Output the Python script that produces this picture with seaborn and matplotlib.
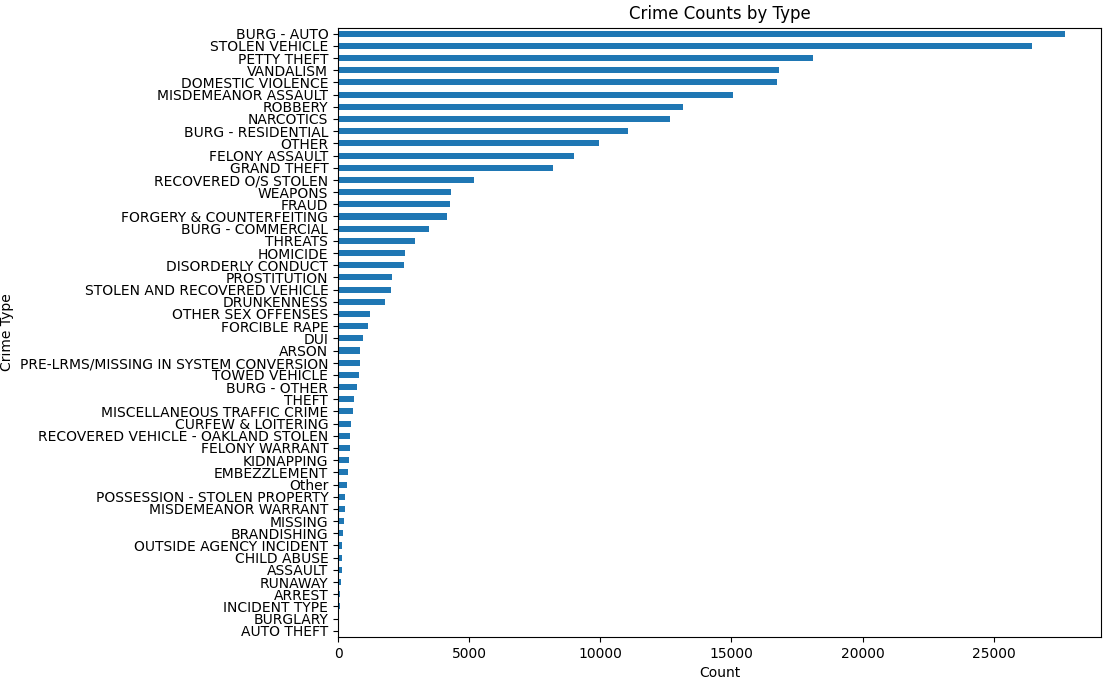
import matplotlib
matplotlib.use("Agg")
import matplotlib.pyplot as plt
import seaborn as sns
import pandas as pd

crime_types = ["BURG - AUTO", "STOLEN VEHICLE", "PETTY THEFT", "VANDALISM", "DOMESTIC VIOLENCE",
    "MISDEMEANOR ASSAULT", "ROBBERY", "NARCOTICS", "BURG - RESIDENTIAL", "OTHER", "FELONY ASSAULT",
    "GRAND THEFT", "RECOVERED O/S STOLEN", "WEAPONS", "FRAUD", "FORGERY & COUNTERFEITING",
    "BURG - COMMERCIAL", "THREATS", "HOMICIDE", "DISORDERLY CONDUCT", "PROSTITUTION",
    "STOLEN AND RECOVERED VEHICLE", "DRUNKENNESS", "OTHER SEX OFFENSES", "FORCIBLE RAPE", "DUI",
    "ARSON", "PRE-LRMS/MISSING IN SYSTEM CONVERSION", "TOWED VEHICLE", "BURG - OTHER", "THEFT",
    "MISCELLANEOUS TRAFFIC CRIME", "CURFEW & LOITERING", "RECOVERED VEHICLE - OAKLAND STOLEN",
    "FELONY WARRANT", "KIDNAPPING", "EMBEZZLEMENT", "Other", "POSSESSION - STOLEN PROPERTY",
    "MISDEMEANOR WARRANT", "MISSING", "BRANDISHING", "OUTSIDE AGENCY INCIDENT", "CHILD ABUSE",
    "ASSAULT", "RUNAWAY", "ARREST", "INCIDENT TYPE", "BURGLARY", "AUTO THEFT"]
counts = [27700, 26450, 18100, 16800, 16750, 15050, 13150, 12650, 11050, 9950, 9000,
    8200, 5200, 4300, 4250, 4150, 3450, 2950, 2550, 2500, 2050,
    2000, 1800, 1200, 1150, 950, 850, 820, 780, 740, 600,
    560, 480, 450, 440, 400, 370, 330, 270, 250, 220, 190, 160, 150,
    140, 120, 90, 80, 45, 30]

df = pd.DataFrame({"Crime Type": crime_types, "Count": counts})

fig, ax = plt.subplots(figsize=(11.12, 6.9), dpi=100)
sns.barplot(data=df, x="Count", y="Crime Type", orient="h", color="#1f77b4",
            saturation=1, width=0.5, ax=ax)
ax.set_title("Crime Counts by Type")
ax.set_xlabel("Count")
ax.set_ylabel("Crime Type")
ax.set_xlim(0, max(counts) * 1.05)
ax.set_ylim(len(crime_types) - 0.5, -0.5)
ax.tick_params(axis="y", labelsize=10)
fig.subplots_adjust(left=0.304, right=0.99, top=0.96, bottom=0.077)
fig.savefig("out.png", dpi=100)
